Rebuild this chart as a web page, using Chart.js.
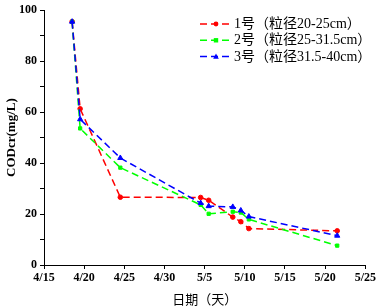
<!DOCTYPE html>
<html>
<head>
<meta charset="utf-8">
<script src="https://cdn.jsdelivr.net/npm/chart.js@4.4.0/dist/chart.umd.min.js"></script>
<style>
  html, body { margin: 0; padding: 0; background: #fff; }
  #wrap { width: 378px; height: 307px; }
</style>
</head>
<body>
<div id="wrap"><canvas id="codChart" width="378" height="307"></canvas></div>
<script>
// 天数（从4/15起算）
const days = [3.5, 4.5, 9.5, 19.5, 20.5, 23.5, 24.5, 25.5, 36.5];
// CODcr (mg/L)
const series1 = [95.5, 61.3, 26.6, 26.5, 25.4, 18.8, 17.0, 14.3, 13.4];
const series2 = [95.5, 53.6, 38.2, 23.6, 20.1, 20.9, 20.6, 17.9, 7.6];
const series3 = [95.5, 57.2, 42.0, 24.3, 23.1, 22.8, 21.4, 19.0, 11.5];
const seriesNames = ['1号（粒径20-25cm）', '2号（粒径25-31.5cm）', '3号（粒径31.5-40cm）'];
const xTickLabels = ['4/15', '4/20', '4/25', '4/30', '5/5', '5/10', '5/15', '5/20', '5/25'];
const yTickLabels = ['0', '20', '40', '60', '80', '100'];

const serif = "'Liberation Serif', 'Times New Roman', serif";
const dash = [7, 4];

function toPoints(vals) {
    return vals.map((v, i) => ({ x: days[i], y: v }));
}

function makeSet(label, vals, color, style, order) {
    return {
        label: label,
        data: toPoints(vals),
        borderColor: color,
        backgroundColor: color,
        borderWidth: 1.5,
        borderDash: dash,
        pointStyle: style,
        pointRadius: style === 'triangle' ? 3 : 2.3,
        pointBorderWidth: 1,
        tension: 0,
        order: order
    };
}

// 图例画在绘图区内部右上角
const innerLegend = {
    id: 'innerLegend',
    afterDraw(chart) {
        const ctx = chart.ctx;
        chart.data.datasets.forEach((ds, i) => {
            const y = 24 + i * 16.3;
            ctx.save();
            ctx.strokeStyle = ds.borderColor;
            ctx.lineWidth = 1.5;
            ctx.setLineDash(dash);
            ctx.beginPath();
            ctx.moveTo(200, y);
            ctx.lineTo(233, y);
            ctx.stroke();
            ctx.setLineDash([]);
            ctx.fillStyle = ds.borderColor;
            const mx = 216;
            ctx.beginPath();
            if (ds.pointStyle === 'circle') {
                ctx.arc(mx, y, 2.4, 0, Math.PI * 2);
            } else if (ds.pointStyle === 'rect') {
                ctx.rect(mx - 2.2, y - 2.2, 4.4, 4.4);
            } else {
                ctx.moveTo(mx, y - 3);
                ctx.lineTo(mx + 2.8, y + 2.2);
                ctx.lineTo(mx - 2.8, y + 2.2);
                ctx.closePath();
            }
            ctx.fill();
            ctx.fillStyle = '#000';
            ctx.font = "14px 'Liberation Serif', 'Noto Sans CJK SC', serif";
            ctx.textBaseline = 'middle';
            ctx.textAlign = 'left';
            ctx.fillText(seriesNames[i], 234, y + 0.5);
            ctx.restore();
        });
    }
};

const ctx = document.getElementById('codChart').getContext('2d');
new Chart(ctx, {
    type: 'line',
    data: {
        datasets: [
            makeSet(seriesNames[0], series1, '#ff0000', 'circle', 2),
            makeSet(seriesNames[1], series2, '#00ff00', 'rect', 1),
            makeSet(seriesNames[2], series3, '#0000ff', 'triangle', 0)
        ]
    },
    options: {
        responsive: false,
        animation: false,
        layout: { padding: { top: 6, right: 11, left: 0, bottom: 0 } },
        plugins: {
            legend: { display: false },
            tooltip: { enabled: false }
        },
        scales: {
            x: {
                type: 'linear',
                min: 0,
                max: 40,
                afterFit(scale) { scale.height = 42; },
                afterBuildTicks(scale) {
                    scale.ticks = xTickLabels.map((t, i) => ({ value: i * 5 }));
                },
                ticks: {
                    callback: (v, i) => xTickLabels[i],
                    color: '#000',
                    padding: 2,
                    maxRotation: 0,
                    autoSkip: false,
                    font: { family: serif, size: 12, weight: 'bold' }
                },
                grid: { drawOnChartArea: false, drawTicks: true, tickLength: 4, color: '#000' },
                border: { display: true, color: '#000', width: 1 },
                title: {
                    display: true,
                    text: '日期（天）',
                    color: '#000',
                    padding: { top: 0, bottom: 0 },
                    font: { family: "'Noto Sans CJK SC', sans-serif", size: 13 }
                }
            },
            y: {
                min: 0,
                max: 100,
                afterFit(scale) { scale.width = 44; },
                afterBuildTicks(scale) {
                    const t = [];
                    for (let v = 0; v <= 100; v += 10) t.push({ value: v });
                    scale.ticks = t;
                },
                ticks: {
                    callback: (v) => (v % 20 === 0 ? yTickLabels[v / 20] : ''),
                    color: '#000',
                    padding: 3,
                    autoSkip: false,
                    font: { family: serif, size: 12, weight: 'bold' }
                },
                grid: { drawOnChartArea: false, drawTicks: true, tickLength: 4, color: '#000' },
                border: { display: true, color: '#000', width: 1 },
                title: {
                    display: true,
                    text: 'CODcr(mg/L)',
                    color: '#000',
                    padding: { top: 4, bottom: 0 },
                    font: { family: serif, size: 13, weight: 'bold' }
                }
            }
        }
    },
    plugins: [innerLegend]
});
</script>
</body>
</html>
